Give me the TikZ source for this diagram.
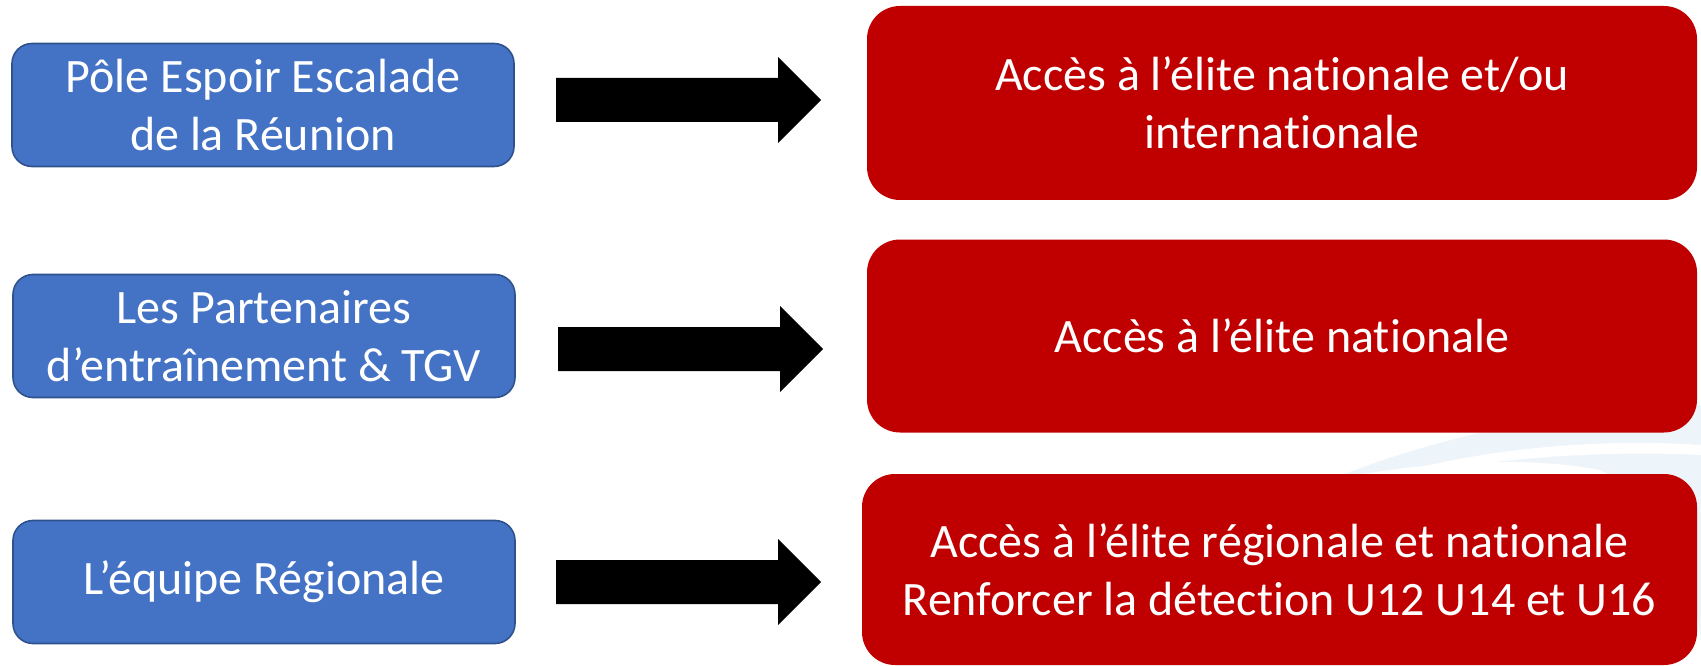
\documentclass[tikz,border=0pt]{standalone}
\usepackage{fontspec}
\setmainfont{Carlito}[Ligatures={NoCommon,NoContextual}]
\begin{document}
\begin{tikzpicture}[x=1pt,y=-1pt,
  bluebox/.style={draw=blueedge,line width=1.6pt,fill=bluefill,rounded corners=20pt,
    minimum width=502pt,minimum height=123pt,inner sep=0pt,align=center,text=white,
    font=\fontsize{48}{58}\selectfont},
  redbox/.style={fill=redfill,rounded corners=33pt,inner sep=0pt,align=center,text=white,
    font=\fontsize{48}{58}\selectfont},
  blockarrow/.style={fill=black},
  swoosh/.style={fill=swooshblue}]
\definecolor{bluefill}{HTML}{4472C4}
\definecolor{blueedge}{HTML}{2F528F}
\definecolor{redfill}{HTML}{C00000}
\definecolor{swooshblue}{HTML}{EDF4FA}
\useasboundingbox (0,0) rectangle (1701,666);
% faint background swoosh
\fill[swoosh] (1330,480) .. controls (1450,430) and (1600,405) .. (1701,405)
  -- (1701,640) .. controls (1690,560) and (1660,500) .. (1600,470)
  .. controls (1520,455) and (1420,462) .. (1330,480) -- cycle;
\fill[white] (1380,478) .. controls (1480,448) and (1600,438) .. (1701,445)
  -- (1701,455) .. controls (1600,450) and (1480,458) .. (1380,482) -- cycle;
% left boxes
\node[bluebox] (b1) at (263,105) {Pôle Espoir Escalade\\de la Réunion};
\node[bluebox] (b2) at (264,336) {Les Partenaires\\d’entraînement \& TGV};
\node[bluebox] (b3) at (264,582) {L’équipe Régionale};
% right boxes
\node[redbox,minimum width=830pt,minimum height=194pt] (r1) at (1282,103) {Accès à l’élite nationale et/ou\\internationale};
\node[redbox,minimum width=830pt,minimum height=193pt] (r2) at (1282,336) {Accès à l’élite nationale};
\node[redbox,minimum width=835pt,minimum height=191pt] (r3) at (1279.5,569.5) {Accès à l’élite régionale et nationale\\Renforcer la détection U12 U14 et U16};
% block arrows
\coordinate (a1) at (556,100);
\coordinate (a2) at (558,349);
\coordinate (a3) at (556,582);
\foreach \a in {a1,a2,a3}{
  \fill[blockarrow] (\a) ++(0,-22) -- ++(222,0) -- ++(0,-21) -- ++(43,43) -- ++(-43,43) -- ++(0,-21) -- ++(-222,0) -- cycle;
}
\end{tikzpicture}
\end{document}
